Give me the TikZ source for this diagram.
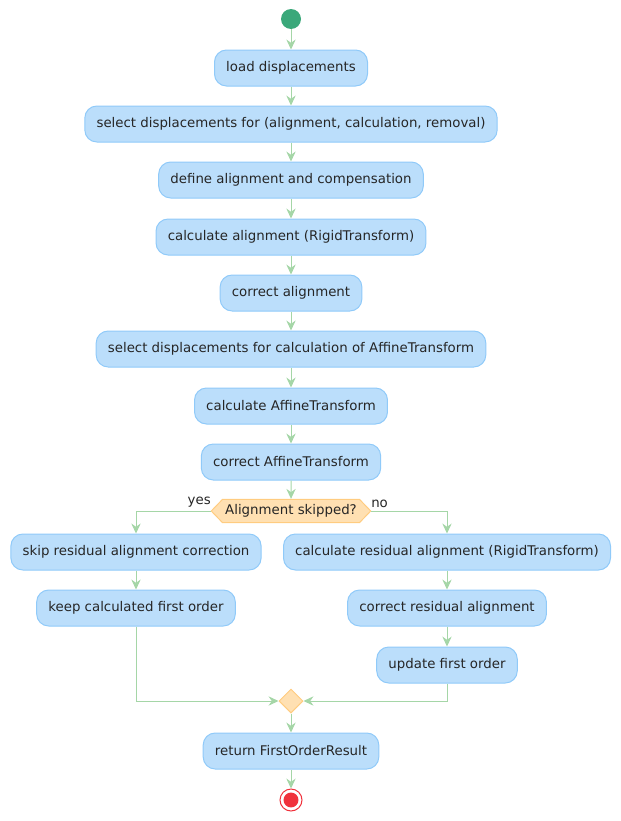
\documentclass[tikz,border=0pt]{standalone}
\usepackage{fontspec}
\setmainfont{DejaVu Sans}
\usetikzlibrary{arrows.meta,shapes.geometric,shapes.symbols}

\definecolor{actfill}{RGB}{187,222,251}
\definecolor{actline}{RGB}{144,202,249}
\definecolor{decfill}{RGB}{255,224,178}
\definecolor{decline}{RGB}{255,204,128}
\definecolor{flowline}{RGB}{165,214,167}
\definecolor{startgreen}{RGB}{58,168,122}
\definecolor{stopred}{RGB}{240,50,60}

\begin{document}
\begin{tikzpicture}[x=0.75pt,y=0.75pt,yscale=-1,xscale=1,
  font=\fontsize{10}{12}\selectfont,
  action/.style={draw=actline,fill=actfill,rounded corners=9pt,line width=0.75pt,
    minimum height=27pt,inner xsep=8.8pt,text=black!85},
  choice/.style={signal,signal to=west and east,signal pointer angle=92,draw=decline,
    fill=decfill,line width=0.75pt,minimum height=17.5pt,inner xsep=2pt,inner ysep=1pt,text=black!85},
  merger/.style={diamond,draw=decline,fill=decfill,line width=0.75pt,minimum size=18pt,inner sep=0pt},
  flow/.style={draw=flowline,line width=0.75pt,-{Stealth[length=7.5pt,width=7pt,inset=2.5pt]}},
  lbl/.style={inner sep=0.75pt,text=black!85}]
\useasboundingbox (0,0) rectangle (621,821);

%Start
\node [circle,fill=startgreen,minimum size=15pt,inner sep=0pt] (start) at (291,19) {};

%Main sequence
\node [action] (load) at (291,68) {load displacements};
\node [action] (select) at (291,124) {select displacements for (alignment, calculation, removal)};
\node [action] (define) at (291,180) {define alignment and compensation};
\node [action] (calcalign) at (291,237) {calculate alignment (RigidTransform)};
\node [action] (corralign) at (291,293) {correct alignment};
\node [action] (selaffine) at (291,349) {select displacements for calculation of AffineTransform};
\node [action] (calcaffine) at (291,406) {calculate AffineTransform};
\node [action] (corraffine) at (291,462) {correct AffineTransform};

%Decision
\node [choice] (skipped) at (291,511) {Alignment skipped?};
\node [lbl,anchor=south east] (yes) at (212,509) {yes};
\node [lbl,anchor=south west] (no) at (370,509) {no};

%Left branch
\node [action] (skip) at (136,552) {skip residual alignment correction};
\node [action] (keep) at (136,608) {keep calculated first order};

%Right branch
\node [action] (calcres) at (447,552) {calculate residual alignment (RigidTransform)};
\node [action] (corrres) at (447,608) {correct residual alignment};
\node [action] (update) at (447,665) {update first order};

%Merge and end
\node [merger] (merge) at (291,701) {};
\node [action] (result) at (291,751) {return FirstOrderResult};
\node [circle,draw=stopred,fill=white,line width=0.75pt,minimum size=16.5pt,inner sep=0pt] (stop) at (291,800) {};
\fill [stopred] (stop.center) circle (5.6pt);

%Connectors
\draw [flow] (start) -- (load);
\draw [flow] (load) -- (select);
\draw [flow] (select) -- (define);
\draw [flow] (define) -- (calcalign);
\draw [flow] (calcalign) -- (corralign);
\draw [flow] (corralign) -- (selaffine);
\draw [flow] (selaffine) -- (calcaffine);
\draw [flow] (calcaffine) -- (corraffine);
\draw [flow] (corraffine) -- (skipped);
\draw [flow] (skipped.west) -| (skip.north);
\draw [flow] (skipped.east) -| (calcres.north);
\draw [flow] (skip) -- (keep);
\draw [flow] (calcres) -- (corrres);
\draw [flow] (corrres) -- (update);
\draw [flow] (keep.south) |- (merge.west);
\draw [flow] (update.south) |- (merge.east);
\draw [flow] (merge) -- (result);
\draw [flow] (result) -- (stop);

\end{tikzpicture}
\end{document}
